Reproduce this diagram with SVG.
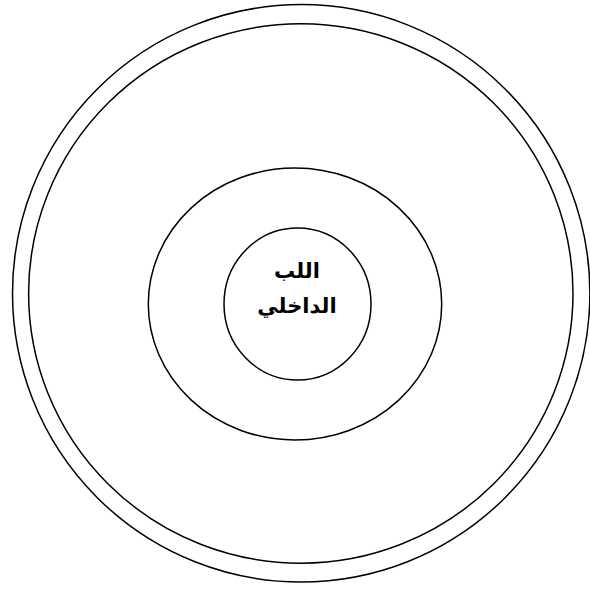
<svg xmlns="http://www.w3.org/2000/svg" width="590" height="590" viewBox="0 0 590 590">
<style>
.c{fill:none;stroke:#000;stroke-width:1.5}
.t{font-family:"Liberation Sans","DejaVu Sans",Arial,sans-serif;font-weight:bold;font-size:21px;text-anchor:middle;fill:#000}
</style>
<rect width="590" height="590" fill="#fff"/>
<g id="outer1"><ellipse class="c" cx="301.2" cy="293.3" rx="288.7" ry="288.7"/></g>
<g id="outer2"><ellipse class="c" cx="300.8" cy="293.5" rx="272.2" ry="269.7"/></g>
<g id="middle"><ellipse class="c" cx="295" cy="304" rx="146.7" ry="136"/></g>
<g id="inner"><ellipse class="c" cx="297.5" cy="304" rx="73.5" ry="76"/>
<text class="t" x="297" y="278" direction="rtl">اللب</text>
<text class="t" x="297" y="313" direction="rtl">الداخلي</text>
</g>
<g id="connectors"/>
</svg>
